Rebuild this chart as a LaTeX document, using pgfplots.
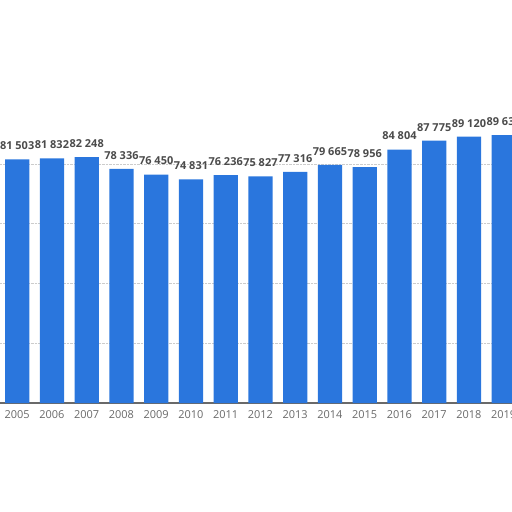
\documentclass[border=0pt]{standalone}
\usepackage{fontspec}
\setmainfont{Open Sans}
\usepackage{pgfplots}
\usepackage{pgfplotstable}
\pgfplotsset{compat=1.18}
\definecolor{barblue}{RGB}{42,118,221}
\definecolor{labelgray}{RGB}{75,75,75}
\definecolor{tickgray}{RGB}{105,105,105}

% values per year (first three partly hidden in the picture, estimated)
\pgfplotstableread{
year value
2005 81503
2006 81832
2007 82248
2008 78336
2009 76450
2010 74831
2011 76236
2012 75827
2013 77316
2014 79665
2015 78956
2016 84804
2017 87775
2018 89120
2019 89633
}\yeardata

\begin{document}
\begin{tikzpicture}
\begin{axis}[
    x=34.75bp, y=0.003bp,
    xmin=2004.3, xmax=2019.9,
    ymin=0, ymax=95000,
    ybar, bar width=24.3bp,
    clip=false,
    axis x line*=bottom, axis y line*=left,
    y axis line style={draw=none},
    x axis line style={draw=tickgray, line width=1.4bp, -},
    xtick={2005,...,2019},
    ytick={0,20000,...,80000},
    yticklabels={},
    scaled y ticks=false,
    major tick length=0pt,
    ymajorgrids,
    grid style={densely dotted, gray!40},
    /pgf/number format/assume math mode=true,
    xticklabel style={font=\fontsize{11}{13}\selectfont, text=tickgray,
        /pgf/number format/1000 sep={}, yshift=-4bp},
    nodes near coords={\pgfmathprintnumber[1000 sep={\ }]{\pgfplotspointmeta}},
    every node near coord/.append style={font=\bfseries\fontsize{11}{13}\selectfont,
        text=labelgray, yshift=6bp},
]
\addplot[fill=barblue, draw=none] table[x=year, y=value] {\yeardata};
\coordinate (o) at (axis cs:2005,0);
\end{axis}
\pgfresetboundingbox
\path[use as bounding box] ([shift={(-17.2bp,-109bp)}]o) rectangle ([shift={(494.8bp,403bp)}]o);
\end{tikzpicture}
\end{document}
